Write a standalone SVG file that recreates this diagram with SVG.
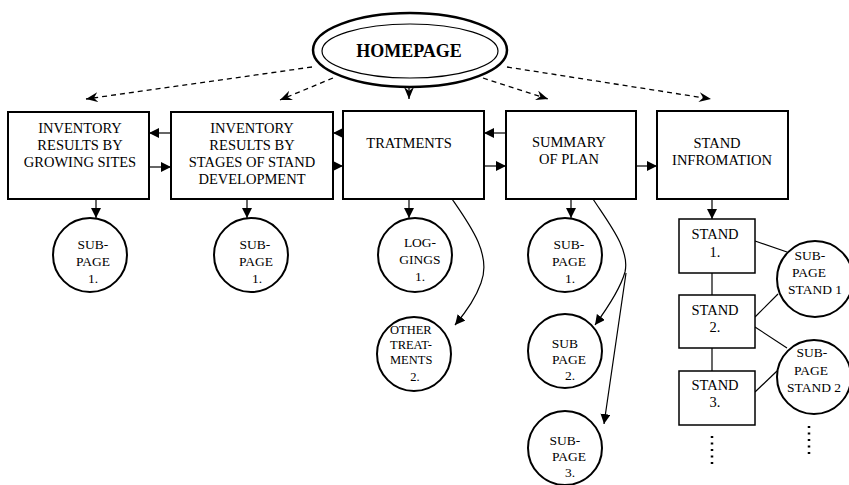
<svg xmlns="http://www.w3.org/2000/svg" width="849" height="485" viewBox="0 0 849 485">
<style>
text{font-family:"Liberation Serif","Times New Roman",serif;fill:#000;text-anchor:middle}
.bt{font-size:14.5px}
.ct{font-size:13.5px}
.st{font-size:12.5px}
.box{fill:#fff;stroke:#000;stroke-width:2}
.sbox{fill:#fff;stroke:#000;stroke-width:1.5}
.circ{fill:#fff;stroke:#000;stroke-width:2}
.ln{fill:none;stroke:#000;stroke-width:1.2}
.dash{fill:none;stroke:#000;stroke-width:1.3;stroke-dasharray:5 4}
.dot{fill:none;stroke:#000;stroke-width:2.5;stroke-dasharray:2 4.5}
</style>
<defs>
<marker id="ah" viewBox="0 0 10 10" refX="10" refY="5" markerWidth="10" markerHeight="10" markerUnits="userSpaceOnUse" orient="auto"><path d="M0,0 L10,5 L0,10 z"/></marker>
<marker id="dh" viewBox="0 0 12 10" refX="12" refY="5" markerWidth="12" markerHeight="10" markerUnits="userSpaceOnUse" orient="auto"><path d="M0,0 L12,5 L0,10 L4,5 z"/></marker>
</defs>
<g id="connectors">
<path class="dash" d="M312,67 L86,99" marker-end="url(#dh)"/>
<path class="dash" d="M333,78 L280,100" marker-end="url(#dh)"/>
<path class="dash" d="M409,79 L409,99" marker-end="url(#dh)"/>
<path class="dash" d="M483,78 L548,99" marker-end="url(#dh)"/>
<path class="dash" d="M507,67 L711,99" marker-end="url(#dh)"/>
<path class="ln" d="M171,133 L149,133" marker-end="url(#ah)"/>
<path class="ln" d="M149,167 L171,167" marker-end="url(#ah)"/>
<path class="ln" d="M343,133 L333,133" marker-end="url(#ah)"/>
<path class="ln" d="M333,166 L343,166" marker-end="url(#ah)"/>
<path class="ln" d="M506,133 L484,133" marker-end="url(#ah)"/>
<path class="ln" d="M484,166 L506,166" marker-end="url(#ah)"/>
<path class="ln" d="M636,166 L657,166" marker-end="url(#ah)"/>
<path class="ln" d="M96,199 L96,218" marker-end="url(#ah)"/>
<path class="ln" d="M247,199 L247,218" marker-end="url(#ah)"/>
<path class="ln" d="M409,199 L409,218" marker-end="url(#ah)"/>
<path class="ln" d="M571,199 L571,218" marker-end="url(#ah)"/>
<path class="ln" d="M712,199 L712,219" marker-end="url(#ah)"/>
<path class="ln" d="M452,199 C470,225 492,255 481,283 C475,300 466,312 455,325" marker-end="url(#ah)"/>
<path class="ln" d="M593,199 C610,225 630,250 625,272 C620,290 606,310 595,325" marker-end="url(#ah)"/>
<path class="ln" d="M626,273 L604,424" marker-end="url(#ah)"/>
<path class="ln" d="M712,273 L712,295"/>
<path class="ln" d="M712,348 L712,371"/>
<path class="ln" d="M755,241 L787,252"/>
<path class="ln" d="M755,317 L778,294"/>
<path class="ln" d="M755,327 L787,348"/>
<path class="ln" d="M755,392 L777,371"/>
<path class="dot" d="M712,436 L712,468"/>
<path class="dot" d="M809,426 L809,458"/>
</g>
<g id="homepage">
<ellipse cx="410" cy="50" rx="97" ry="37" fill="#fff" stroke="#000" stroke-width="2.5"/>
<ellipse cx="410" cy="51" rx="88" ry="27" fill="none" stroke="#000" stroke-width="1.2"/>
<text x="409" y="57" style="font-size:18px;font-weight:bold">HOMEPAGE</text>
</g>
<g id="inv-sites">
<rect class="box" x="8" y="112" width="141" height="87"/>
<text class="bt" x="80" y="133">INVENTORY</text>
<text class="bt" x="80" y="150">RESULTS BY</text>
<text class="bt" x="80" y="167">GROWING SITES</text>
</g>
<g id="inv-stages">
<rect class="box" x="171" y="112" width="162" height="87"/>
<text class="bt" x="252" y="133">INVENTORY</text>
<text class="bt" x="252" y="150">RESULTS BY</text>
<text class="bt" x="252" y="167">STAGES OF STAND</text>
<text class="bt" x="252" y="184">DEVELOPMENT</text>
</g>
<g id="tratments">
<rect class="box" x="343" y="111" width="141" height="88"/>
<text class="bt" x="409" y="148">TRATMENTS</text>
</g>
<g id="summary">
<rect class="box" x="506" y="111" width="130" height="88"/>
<text class="bt" x="569" y="147">SUMMARY</text>
<text class="bt" x="569" y="164">OF PLAN</text>
</g>
<g id="stand-info">
<rect class="box" x="657" y="111" width="131" height="88"/>
<text class="bt" x="717" y="148">STAND</text>
<text class="bt" x="722" y="165">INFROMATION</text>
</g>
<g id="sub1-sites">
<circle class="circ" cx="90" cy="255" r="37"/>
<text class="ct" x="93" y="249">SUB-</text>
<text class="ct" x="93" y="266">PAGE</text>
<text class="ct" x="93" y="283">1.</text>
</g>
<g id="sub1-stages">
<circle class="circ" cx="251" cy="255" r="37"/>
<text class="ct" x="255" y="249">SUB-</text>
<text class="ct" x="256" y="266">PAGE</text>
<text class="ct" x="257" y="283">1.</text>
</g>
<g id="loggings">
<circle class="circ" cx="415" cy="255" r="37"/>
<text class="ct" x="420" y="247">LOG-</text>
<text class="ct" x="420" y="264">GINGS</text>
<text class="ct" x="420" y="281">1.</text>
</g>
<g id="other-treatments">
<circle class="circ" cx="414" cy="354" r="37"/>
<text class="st" x="390" y="334" style="text-anchor:start">OTHER</text>
<text class="st" x="390" y="349" style="text-anchor:start">TREAT-</text>
<text class="st" x="390" y="364" style="text-anchor:start">MENTS</text>
<text class="st" x="415" y="381">2.</text>
</g>
<g id="sub1-summary">
<circle class="circ" cx="565" cy="255" r="37"/>
<text class="ct" x="569" y="249">SUB-</text>
<text class="ct" x="569" y="266">PAGE</text>
<text class="ct" x="570" y="283">1.</text>
</g>
<g id="sub2-summary">
<circle class="circ" cx="565" cy="351" r="37"/>
<text class="ct" x="565" y="348">SUB</text>
<text class="ct" x="569" y="364">PAGE</text>
<text class="ct" x="570" y="380">2.</text>
</g>
<g id="sub3-summary">
<circle class="circ" cx="565" cy="448" r="37"/>
<text class="ct" x="565" y="445">SUB-</text>
<text class="ct" x="569" y="461">PAGE</text>
<text class="ct" x="570" y="477">3.</text>
</g>
<g id="stand1">
<rect class="sbox" x="679" y="219" width="76" height="54"/>
<text class="bt" x="715" y="239">STAND</text>
<text class="bt" x="715" y="257">1.</text>
</g>
<g id="stand2">
<rect class="sbox" x="679" y="295" width="76" height="53"/>
<text class="bt" x="715" y="315">STAND</text>
<text class="bt" x="715" y="332">2.</text>
</g>
<g id="stand3">
<rect class="sbox" x="679" y="371" width="76" height="54"/>
<text class="bt" x="715" y="390">STAND</text>
<text class="bt" x="715" y="407">3.</text>
</g>
<g id="sub-stand1">
<circle class="circ" cx="815" cy="279" r="38"/>
<text class="ct" x="810" y="260">SUB-</text>
<text class="ct" x="809" y="277">PAGE</text>
<text class="ct" x="788" y="294" style="text-anchor:start">STAND 1</text>
</g>
<g id="sub-stand2">
<circle class="circ" cx="814" cy="377" r="37"/>
<text class="ct" x="812" y="357">SUB-</text>
<text class="ct" x="811" y="375">PAGE</text>
<text class="ct" x="787" y="392" style="text-anchor:start">STAND 2</text>
</g>
</svg>
